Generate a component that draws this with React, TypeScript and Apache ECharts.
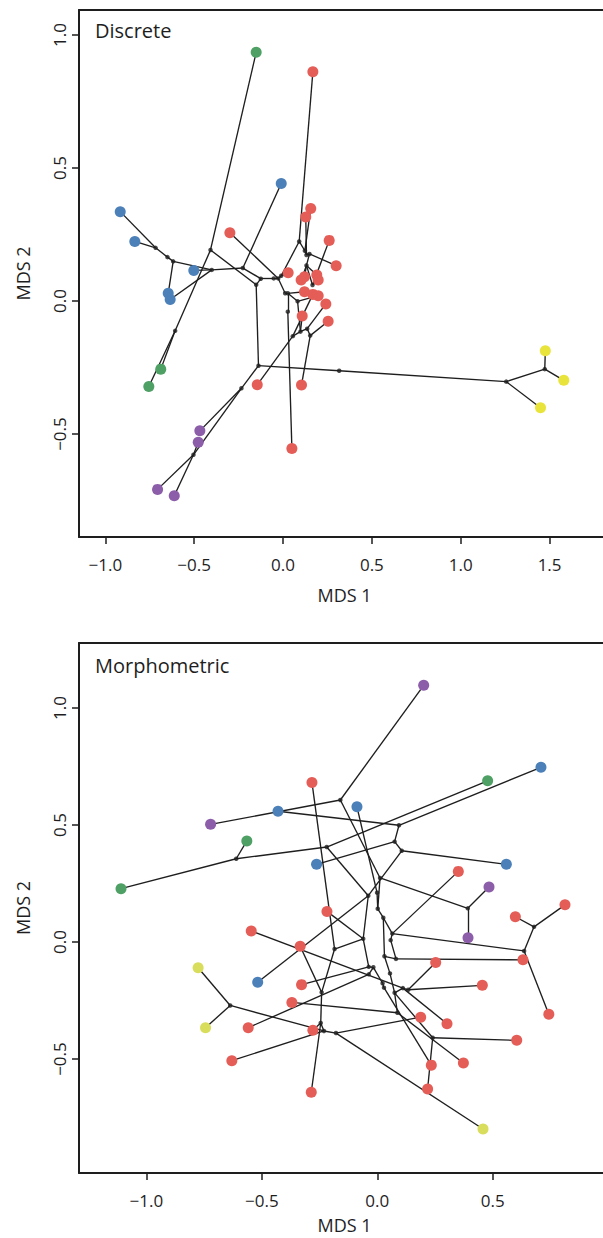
import React, { useEffect, useRef } from "react";
import * as echarts from "echarts";

const FONT = "Open Sans";
const INK = "#1e1e1e";

const GROUP_COLORS: Record<string, string> = {
  red: "#E55D57",
  blue: "#4C80B9",
  green: "#4EA064",
  purple: "#8C5DA8",
  yellow: "#E9E43C",
  lime: "#D8DD5C",
};

// ---------- Panel 1: Discrete ----------
const discreteTips: [string, string, number, number][] = [
  ["g1", "green", -0.151, 0.935],
  ["g2", "green", -0.688, -0.256],
  ["g3", "green", -0.755, -0.321],
  ["b1", "blue", -0.01, 0.442],
  ["b2", "blue", -0.916, 0.336],
  ["b3", "blue", -0.834, 0.224],
  ["b4", "blue", -0.502, 0.115],
  ["b5", "blue", -0.646, 0.029],
  ["b6", "blue", -0.635, 0.006],
  ["r1", "red", 0.168, 0.862],
  ["r2", "red", 0.156, 0.348],
  ["r3", "red", 0.128, 0.316],
  ["r4", "red", -0.299, 0.257],
  ["r5", "red", 0.26, 0.228],
  ["r6", "red", 0.299, 0.133],
  ["r7", "red", 0.029, 0.106],
  ["r8", "red", 0.121, 0.091],
  ["r9", "red", 0.102, 0.079],
  ["r10", "red", 0.19, 0.098],
  ["r11", "red", 0.198, 0.079],
  ["r12", "red", 0.121, 0.035],
  ["r13", "red", 0.168, 0.025],
  ["r14", "red", 0.198, 0.02],
  ["r15", "red", 0.241, -0.011],
  ["r16", "red", 0.108, -0.056],
  ["r17", "red", 0.254, -0.076],
  ["r18", "red", -0.145, -0.315],
  ["r19", "red", 0.104, -0.316],
  ["r20", "red", 0.05, -0.554],
  ["p1", "purple", -0.468, -0.488],
  ["p2", "purple", -0.477, -0.531],
  ["p3", "purple", -0.706, -0.708],
  ["p4", "purple", -0.612, -0.732],
  ["y1", "yellow", 1.476, -0.187],
  ["y2", "yellow", 1.58, -0.298],
  ["y3", "yellow", 1.449, -0.401],
];

const discreteNodes: [string, number, number][] = [
  ["A", -0.717, 0.2],
  ["B", -0.65, 0.165],
  ["C", -0.618, 0.149],
  ["D", -0.401, 0.117],
  ["E", -0.226, 0.124],
  ["F", -0.125, 0.084],
  ["K", -0.151, 0.061],
  ["G", -0.408, 0.192],
  ["H", -0.607, -0.112],
  ["n1", -0.052, 0.085],
  ["n2", -0.027, 0.085],
  ["n3", -0.01, 0.095],
  ["n4", 0.091, 0.224],
  ["n5", 0.123, 0.189],
  ["n6", 0.132, 0.173],
  ["n7", 0.149, 0.177],
  ["n8", 0.132, 0.134],
  ["n9", 0.012, 0.029],
  ["n10", 0.027, 0.029],
  ["n11", 0.082, -0.001],
  ["n12", 0.027, -0.04],
  ["n13", 0.055, -0.132],
  ["n14", 0.098, -0.115],
  ["n15", 0.136, -0.104],
  ["n16", 0.153, -0.13],
  ["n17", -0.138, -0.243],
  ["n18", 0.316, -0.262],
  ["n19", -0.234, -0.328],
  ["n20", -0.504, -0.578],
  ["n21", 1.256, -0.303],
  ["n22", 1.473, -0.256],
  ["n23", 0.166, 0.06],
];

const discreteEdges: [string, string][] = [
  ["b2", "A"], ["b3", "A"], ["A", "B"], ["B", "C"], ["C", "b5"], ["C", "D"],
  ["D", "b4"], ["D", "b6"], ["D", "E"], ["E", "b1"], ["E", "F"], ["F", "K"],
  ["K", "G"], ["G", "g1"], ["G", "H"], ["H", "g2"], ["H", "g3"], ["K", "n17"],
  ["n17", "n18"], ["n18", "n21"], ["n21", "n22"], ["n22", "y1"], ["n22", "y2"],
  ["n21", "y3"], ["n17", "n19"], ["n19", "p1"], ["n19", "n20"], ["n20", "p2"],
  ["n20", "p3"], ["n20", "p4"], ["F", "n1"], ["n1", "n2"], ["n2", "r4"],
  ["n2", "n3"], ["n3", "r7"], ["n3", "n4"], ["n4", "r1"], ["n4", "n5"],
  ["n5", "r2"], ["n5", "n6"], ["n6", "r3"], ["n6", "n7"], ["n7", "r6"],
  ["n7", "n8"], ["n8", "r8"], ["n8", "r10"], ["n8", "r9"], ["n8", "n23"],
  ["n23", "r5"], ["n23", "r11"], ["n2", "n9"], ["n9", "n10"], ["n10", "r12"],
  ["n10", "n12"], ["n12", "r20"], ["n10", "n11"], ["n11", "r14"], ["n11", "n14"],
  ["n14", "r16"], ["n14", "n13"], ["n13", "r18"], ["n13", "r13"], ["n14", "n15"],
  ["n15", "r15"], ["n15", "n16"], ["n16", "r17"], ["n16", "r19"],
];

// ---------- Panel 2: Morphometric ----------
const morphTips: [string, string, number, number][] = [
  ["P1", "purple", 0.201, 1.097],
  ["P2", "purple", -0.722, 0.503],
  ["P3", "purple", 0.484, 0.235],
  ["P4", "purple", 0.393, 0.018],
  ["G1", "green", 0.478, 0.689],
  ["G2", "green", -0.565, 0.432],
  ["G3", "green", -1.11, 0.228],
  ["B1", "blue", 0.709, 0.747],
  ["B2", "blue", -0.43, 0.559],
  ["B3", "blue", -0.088, 0.578],
  ["B4", "blue", -0.263, 0.332],
  ["B5", "blue", 0.559, 0.332],
  ["B6", "blue", -0.518, -0.172],
  ["Y1", "lime", -0.776, -0.11],
  ["Y2", "lime", -0.744, -0.366],
  ["Y3", "lime", 0.458, -0.799],
  ["R1", "red", -0.283, 0.682],
  ["R2", "red", -0.218, 0.131],
  ["R3", "red", 0.351, 0.302],
  ["R4", "red", 0.813, 0.159],
  ["R5", "red", 0.598, 0.108],
  ["R6", "red", -0.546, 0.047],
  ["R7", "red", -0.334, -0.018],
  ["R8", "red", 0.253, -0.087],
  ["R9", "red", 0.631, -0.076],
  ["R10", "red", -0.328, -0.182],
  ["R11", "red", 0.455, -0.185],
  ["R12", "red", -0.37, -0.258],
  ["R13", "red", 0.743, -0.309],
  ["R14", "red", 0.188, -0.321],
  ["R15", "red", 0.302, -0.349],
  ["R16", "red", -0.559, -0.366],
  ["R17", "red", -0.279, -0.377],
  ["R18", "red", 0.604, -0.42],
  ["R19", "red", -0.63, -0.507],
  ["R20", "red", 0.373, -0.517],
  ["R21", "red", 0.234, -0.526],
  ["R22", "red", 0.218, -0.628],
  ["R23", "red", -0.286, -0.642],
];

const morphNodes: [string, number, number][] = [
  ["m1", -0.16, 0.607],
  ["m2", 0.094, 0.499],
  ["m3", 0.075, 0.429],
  ["m4", 0.106, 0.39],
  ["m5", -0.219, 0.406],
  ["m6", -0.611, 0.356],
  ["m7", 0.012, 0.274],
  ["m8", -0.039, 0.198],
  ["m9", -0.001, 0.211],
  ["m10", 0.002, 0.142],
  ["m11", 0.026, 0.104],
  ["m12", 0.392, 0.144],
  ["m13", 0.679, 0.065],
  ["m14", 0.636, -0.038],
  ["m15", 0.065, 0.036],
  ["m16", 0.058, 0.008],
  ["m17", -0.061, 0.014],
  ["m18", -0.185, -0.03],
  ["m19", 0.031, -0.061],
  ["m20", 0.081, -0.072],
  ["m21", -0.037, -0.106],
  ["m22", -0.017, -0.108],
  ["m23", 0.055, -0.134],
  ["m24", -0.037, -0.138],
  ["m25", 0.023, -0.176],
  ["m26", 0.029, -0.195],
  ["m27", 0.075, -0.217],
  ["m28", 0.111, -0.197],
  ["m29", 0.134, -0.204],
  ["m30", 0.087, -0.302],
  ["m31", -0.241, -0.215],
  ["m32", -0.245, -0.346],
  ["m33", -0.231, -0.38],
  ["m34", -0.179, -0.389],
  ["m35", -0.637, -0.271],
  ["m36", 0.24, -0.409],
];

const morphEdges: [string, string][] = [
  ["P1", "m1"], ["P2", "m1"], ["m1", "m7"], ["B1", "m2"], ["B2", "m2"], ["m2", "m3"],
  ["m3", "B4"], ["m3", "m4"], ["m4", "B5"], ["m4", "m8"], ["m5", "G1"], ["m5", "m6"],
  ["m5", "m8"], ["m6", "G2"], ["m6", "G3"], ["m8", "B6"], ["m8", "m17"], ["m7", "m12"],
  ["m12", "P3"], ["m12", "P4"], ["m7", "m10"], ["B3", "m9"], ["m9", "m10"], ["m10", "m11"],
  ["m11", "m15"], ["m11", "m19"], ["m15", "R3"], ["m15", "m16"], ["m15", "m14"],
  ["m14", "m13"], ["m13", "R4"], ["m13", "R5"], ["m14", "R13"], ["m16", "m20"],
  ["m20", "R9"], ["m19", "m20"], ["m19", "m23"], ["m17", "R2"], ["m17", "m21"],
  ["m21", "R10"], ["m21", "m22"], ["m22", "m24"], ["m22", "m25"], ["m24", "R16"],
  ["m25", "m26"], ["m26", "R21"], ["m23", "m27"], ["m27", "m28"], ["m27", "m36"],
  ["m27", "m30"], ["m28", "R6"], ["m28", "R15"], ["m28", "m29"], ["m29", "R8"],
  ["m29", "R11"], ["m30", "R12"], ["m30", "R20"], ["m36", "R18"], ["m36", "R22"],
  ["m18", "R1"], ["m18", "m17"], ["m18", "m31"], ["m31", "R7"], ["m31", "m32"],
  ["m32", "R17"], ["m32", "R23"], ["m32", "m33"], ["m33", "m35"], ["m33", "R19"],
  ["m33", "m34"], ["m34", "R14"], ["m34", "Y3"], ["m35", "Y1"], ["m35", "Y2"],
];

// ---------- axes ----------
const discreteXTicks = [-1, -0.5, 0, 0.5, 1, 1.5];
const discreteYTicks = [-0.5, 0, 0.5, 1];
const morphXTicks = [-1, -0.5, 0, 0.5];
const morphYTicks = [-0.5, 0, 0.5, 1];

const fmt = (v: number) => (v < 0 ? "\u2212" : "") + Math.abs(v).toFixed(1);

function panelSeries(
  tips: [string, string, number, number][],
  nodes: [string, number, number][],
  edges: [string, string][],
  xIdx: number,
  yIdx: number
) {
  const pos = new Map<string, [number, number]>();
  tips.forEach(([id, , x, y]) => pos.set(id, [x, y]));
  nodes.forEach(([id, x, y]) => pos.set(id, [x, y]));
  return [
    {
      type: "lines",
      coordinateSystem: "cartesian2d",
      xAxisIndex: xIdx,
      yAxisIndex: yIdx,
      silent: true,
      z: 2,
      lineStyle: { color: INK, width: 1.35, opacity: 1 },
      data: edges.map(([a, b]) => ({ coords: [pos.get(a), pos.get(b)] })),
    },
    {
      type: "scatter",
      xAxisIndex: xIdx,
      yAxisIndex: yIdx,
      silent: true,
      z: 3,
      symbolSize: 4.5,
      itemStyle: { color: INK },
      data: nodes.map(([, x, y]) => [x, y]),
    },
    {
      type: "scatter",
      xAxisIndex: xIdx,
      yAxisIndex: yIdx,
      silent: true,
      z: 4,
      symbolSize: 11,
      data: tips.map(([, g, x, y]) => ({
        value: [x, y],
        itemStyle: { color: GROUP_COLORS[g], opacity: 1 },
      })),
    },
  ];
}

function xAxisDef(gridIndex: number, min: number, max: number, ticks: number[], nameGap: number) {
  return {
    type: "value",
    gridIndex,
    position: "bottom",
    min,
    max,
    axisLine: { show: true, onZero: false, lineStyle: { color: INK, width: 2 } },
    axisTick: { show: true, length: 7, customValues: ticks, lineStyle: { color: INK, width: 1.5 } },
    axisLabel: { customValues: ticks, formatter: fmt, fontSize: 17, color: INK, margin: 19, fontFamily: FONT },
    splitLine: { show: false },
    name: "MDS 1",
    nameLocation: "middle",
    nameGap,
    nameTextStyle: { fontSize: 18, color: INK, fontFamily: FONT },
  };
}

function topAxisDef(gridIndex: number, min: number, max: number) {
  return {
    type: "value",
    gridIndex,
    position: "top",
    min,
    max,
    axisLine: { show: true, onZero: false, lineStyle: { color: INK, width: 2 } },
    axisTick: { show: false },
    axisLabel: { show: false },
    splitLine: { show: false },
  };
}

function yAxisDef(gridIndex: number, min: number, max: number, ticks: number[]) {
  return {
    type: "value",
    gridIndex,
    min,
    max,
    axisLine: { show: true, onZero: false, lineStyle: { color: INK, width: 2 } },
    axisTick: { show: true, length: 7, customValues: ticks, lineStyle: { color: INK, width: 1.5 } },
    axisLabel: { customValues: ticks, formatter: fmt, fontSize: 17, color: INK, margin: 11, rotate: 90, fontFamily: FONT },
    splitLine: { show: false },
    name: "MDS 2",
    nameLocation: "middle",
    nameGap: 47,
    nameTextStyle: { fontSize: 18, color: INK, fontFamily: FONT },
  };
}

export default function App() {
  const ref = useRef<HTMLDivElement>(null);
  useEffect(() => {
    if (!ref.current) return;
    const chart = echarts.init(ref.current, undefined, { renderer: "svg" });
    chart.setOption({
      animation: false,
      backgroundColor: "#ffffff",
      grid: [
        { left: 79, top: 10, width: 531, height: 527, show: false, outerBoundsMode: "none", containLabel: false },
        { left: 79, top: 643, width: 531, height: 530, show: false, outerBoundsMode: "none", containLabel: false },
      ],
      xAxis: [
        xAxisDef(0, -1.148, 1.84, discreteXTicks, 49),
        xAxisDef(1, -1.292, 1.008, morphXTicks, 43),
        topAxisDef(0, -1.148, 1.84),
        topAxisDef(1, -1.292, 1.008),
      ],
      yAxis: [
        yAxisDef(0, -0.887, 1.094, discreteYTicks),
        yAxisDef(1, -0.987, 1.278, morphYTicks),
      ],
      graphic: [
        { type: "text", left: 95, top: 20, style: { text: "Discrete", fontSize: 20, fill: INK, fontFamily: FONT } },
        { type: "text", left: 95, top: 655, style: { text: "Morphometric", fontSize: 20, fill: INK, fontFamily: FONT } },
      ],
      series: [
        ...panelSeries(discreteTips, discreteNodes, discreteEdges, 0, 0),
        ...panelSeries(morphTips, morphNodes, morphEdges, 1, 1),
      ],
    });
    return () => chart.dispose();
  }, []);
  return (
    <div
      ref={ref}
      style={{ position: "absolute", left: 0, top: 0, width: 603, height: 1238, background: "#fff" }}
    />
  );
}
